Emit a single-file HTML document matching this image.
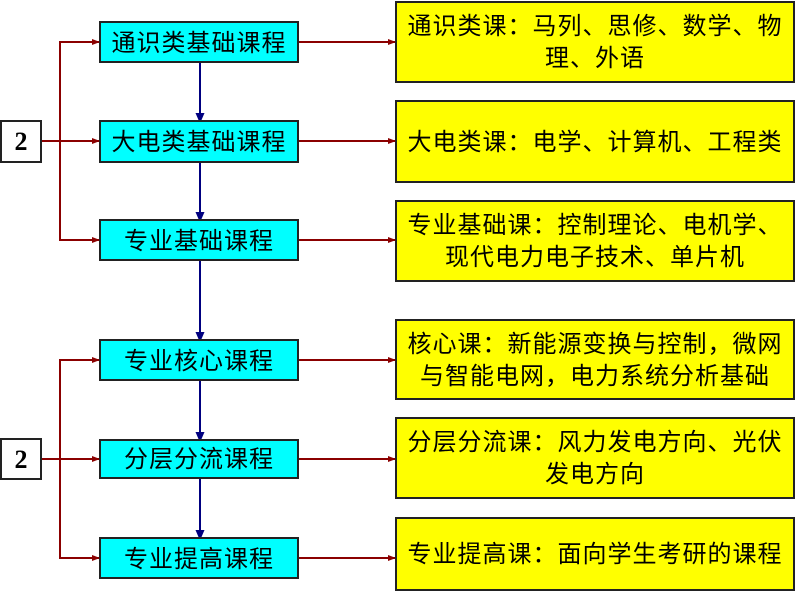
<!DOCTYPE html>
<html><head><meta charset="utf-8"><style>
html,body{margin:0;padding:0;background:#fff;width:800px;height:594px;overflow:hidden}
text{font-family:"Liberation Sans","Noto Sans CJK SC","WenQuanYi Zen Hei",sans-serif;font-size:24px;fill:#000}
</style></head><body>
<svg width="800" height="594" viewBox="0 0 800 594" xmlns="http://www.w3.org/2000/svg">
<defs>
<marker id="ar" markerWidth="8" markerHeight="6" refX="7" refY="3" orient="auto" markerUnits="userSpaceOnUse"><path d="M0,0 L8,3 L0,6 z" fill="#8b0000"/></marker>
</defs>
<g stroke="#8b0000" stroke-width="2" fill="none">
<line x1="41" y1="141" x2="99" y2="141" marker-end="url(#ar)"/>
<polyline points="99,42 60,42 60,240 99,240"/>
<line x1="92" y1="42" x2="99" y2="42" marker-end="url(#ar)"/>
<line x1="92" y1="240" x2="99" y2="240" marker-end="url(#ar)"/>
<line x1="41" y1="459" x2="99" y2="459" marker-end="url(#ar)"/>
<polyline points="99,360 60,360 60,558 99,558"/>
<line x1="92" y1="360" x2="99" y2="360" marker-end="url(#ar)"/>
<line x1="92" y1="558" x2="99" y2="558" marker-end="url(#ar)"/>
<line x1="298" y1="42" x2="395" y2="42" marker-end="url(#ar)"/>
<line x1="298" y1="141" x2="395" y2="141" marker-end="url(#ar)"/>
<line x1="298" y1="240" x2="395" y2="240" marker-end="url(#ar)"/>
<line x1="298" y1="360" x2="395" y2="360" marker-end="url(#ar)"/>
<line x1="298" y1="459" x2="395" y2="459" marker-end="url(#ar)"/>
<line x1="298" y1="558" x2="395" y2="558" marker-end="url(#ar)"/>
</g>
<g stroke="#000080" stroke-width="2">
<line x1="200" y1="62" x2="200" y2="121"/><path d="M197,114 L200,121 L203,114z" fill="#000080"/>
<line x1="200" y1="162" x2="200" y2="220"/><path d="M197,213 L200,220 L203,213z" fill="#000080"/>
<line x1="200" y1="260" x2="200" y2="340"/><path d="M197,333 L200,340 L203,333z" fill="#000080"/>
<line x1="200" y1="380" x2="200" y2="440"/><path d="M197,433 L200,440 L203,433z" fill="#000080"/>
<line x1="200" y1="478" x2="200" y2="538"/><path d="M197,531 L200,538 L203,531z" fill="#000080"/>
</g>
<g stroke="#222" stroke-width="2">
<rect x="1" y="121" width="40" height="41" fill="#fff"/>
<rect x="1" y="439" width="40" height="40" fill="#fff"/>
<rect x="100" y="22" width="198" height="40" fill="#00ffff"/>
<rect x="100" y="121" width="198" height="41" fill="#00ffff"/>
<rect x="100" y="220" width="198" height="40" fill="#00ffff"/>
<rect x="100" y="340" width="198" height="40" fill="#00ffff"/>
<rect x="100" y="440" width="198" height="38" fill="#00ffff"/>
<rect x="100" y="538" width="198" height="40" fill="#00ffff"/>
<rect x="396" y="2" width="398" height="80" fill="#ffff00"/>
<rect x="396" y="101" width="398" height="81" fill="#ffff00"/>
<rect x="396" y="201" width="398" height="80" fill="#ffff00"/>
<rect x="396" y="320" width="398" height="79" fill="#ffff00"/>
<rect x="396" y="418" width="398" height="80" fill="#ffff00"/>
<rect x="396" y="518" width="398" height="72" fill="#ffff00"/>
</g>
<text x="21" y="150" text-anchor="middle" style="font-family:'Liberation Serif',serif;font-weight:bold;font-size:26px">2</text>
<text x="21" y="468" text-anchor="middle" style="font-family:'Liberation Serif',serif;font-weight:bold;font-size:26px">2</text>
<g text-anchor="middle" letter-spacing="1">
<text x="199" y="51">通识类基础课程</text>
<text x="199" y="150">大电类基础课程</text>
<text x="199" y="249">专业基础课程</text>
<text x="199" y="369">专业核心课程</text>
<text x="199" y="467">分层分流课程</text>
<text x="199" y="567">专业提高课程</text>
<text x="595" y="34">通识类课：马列、思修、数学、物</text>
<text x="595" y="66">理、外语</text>
<text x="595" y="150">大电类课：电学、计算机、工程类</text>
<text x="595" y="233">专业基础课：控制理论、电机学、</text>
<text x="595" y="265">现代电力电子技术、单片机</text>
<text x="595" y="352">核心课：新能源变换与控制，微网</text>
<text x="595" y="384">与智能电网，电力系统分析基础</text>
<text x="595" y="450">分层分流课：风力发电方向、光伏</text>
<text x="595" y="482">发电方向</text>
<text x="595" y="562">专业提高课：面向学生考研的课程</text>
</g>
</svg>
</body></html>
